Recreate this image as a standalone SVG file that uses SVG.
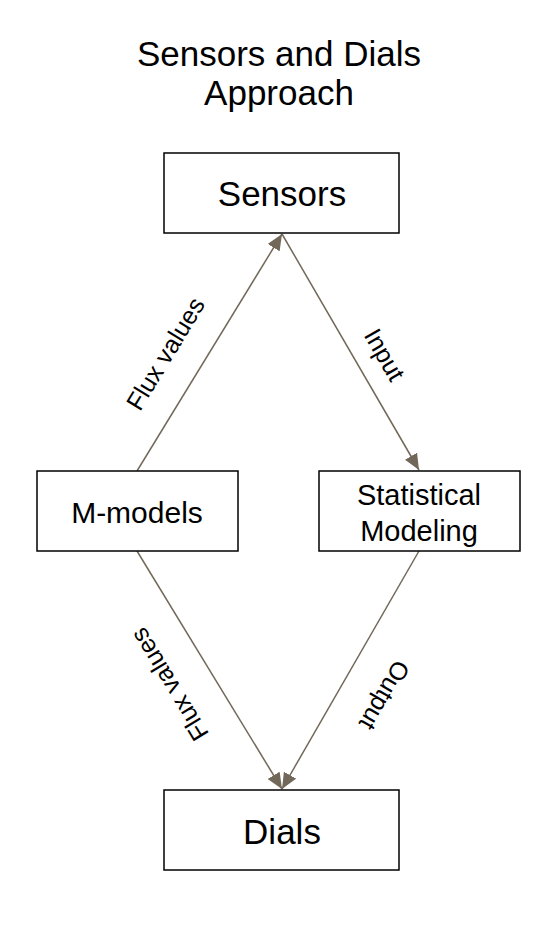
<svg xmlns="http://www.w3.org/2000/svg" width="560" height="932" viewBox="0 0 560 932">
<style>
.box{fill:#fff;stroke:#000;stroke-width:1.5}
.t{font-family:"Liberation Sans",Arial,sans-serif;fill:#000;text-anchor:middle}
.edge{stroke:#72685a;stroke-width:1.5;fill:none;marker-end:url(#ah)}
</style>
<defs>
<marker id="ah" markerUnits="userSpaceOnUse" markerWidth="18" markerHeight="14" refX="16" refY="7" orient="auto">
<path d="M0,0 L16,7 L0,14 Z" fill="#72685a"/>
</marker>
</defs>
<g id="title">
<text class="t" x="279" y="66" font-size="35">Sensors and Dials</text>
<text class="t" x="279" y="105" font-size="35">Approach</text>
</g>
<g id="connectors">
<line class="edge" x1="137" y1="471" x2="282" y2="234"/>
<line class="edge" x1="282" y1="234" x2="419" y2="470"/>
<line class="edge" x1="137" y1="551" x2="282" y2="789"/>
<line class="edge" x1="419" y1="551" x2="282" y2="789"/>
<text class="t" font-size="25" transform="translate(166,354) rotate(-58.6)" y="8">Flux values</text>
<text class="t" font-size="25" transform="translate(384,355) rotate(60)" y="8">Input</text>
<text class="t" font-size="25" transform="translate(170,684) rotate(-121.2)" y="8">Flux values</text>
<text class="t" font-size="25" transform="translate(384,695) rotate(120)" y="8">Output</text>
</g>
<g id="sensors">
<rect class="box" x="164" y="153" width="235" height="80"/>
<text class="t" x="282" y="206" font-size="35">Sensors</text>
</g>
<g id="mmodels">
<rect class="box" x="37" y="471" width="201" height="80"/>
<text class="t" x="137" y="523" font-size="30">M-models</text>
</g>
<g id="statistical">
<rect class="box" x="319" y="471" width="201" height="80"/>
<text class="t" x="419" y="505" font-size="29">Statistical</text>
<text class="t" x="419" y="541" font-size="29">Modeling</text>
</g>
<g id="dials">
<rect class="box" x="164" y="790" width="235" height="80"/>
<text class="t" x="282" y="844" font-size="35">Dials</text>
</g>
</svg>
